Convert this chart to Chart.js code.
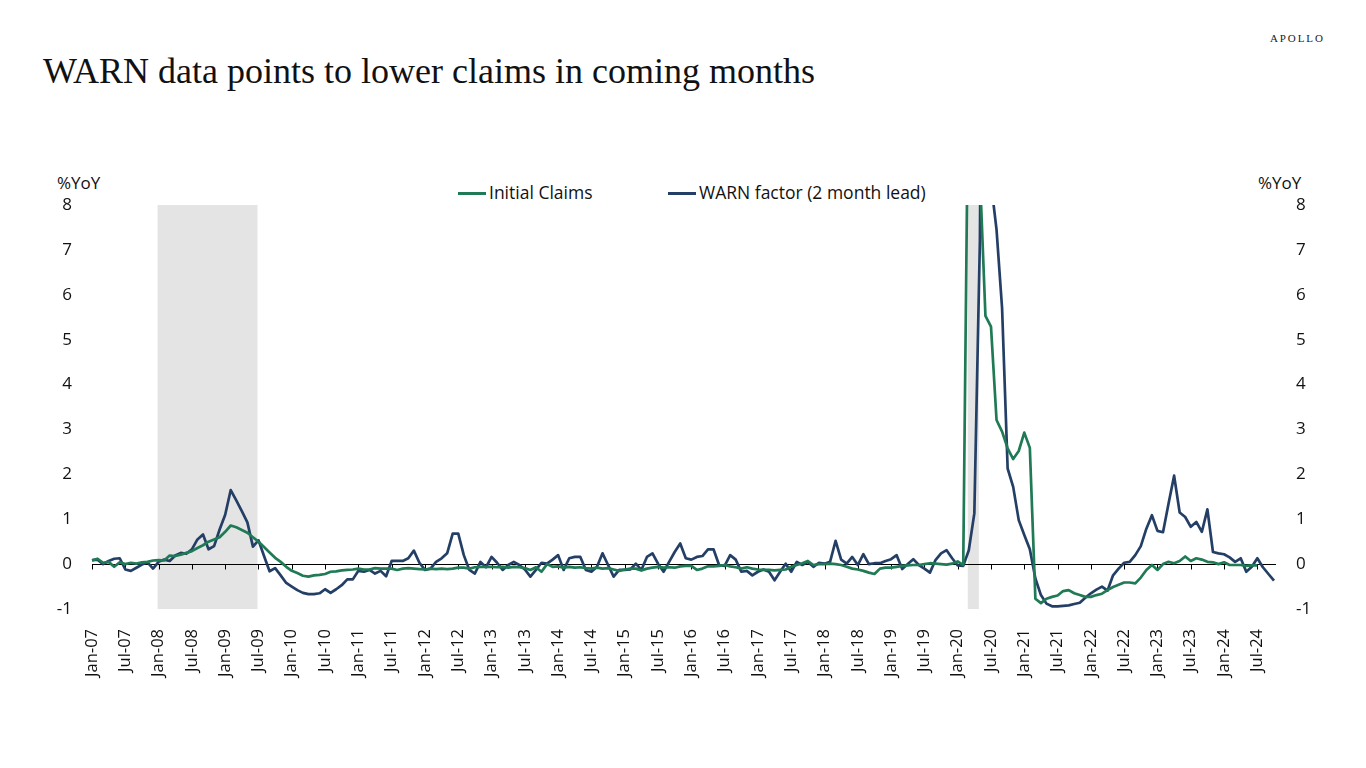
<!DOCTYPE html>
<html>
<head>
<meta charset="utf-8">
<title>WARN data points to lower claims in coming months</title>
<script src="https://cdn.jsdelivr.net/npm/chart.js@4.4.1/dist/chart.umd.min.js"></script>
<style>
  html, body { margin: 0; padding: 0; background: #fff; }
  body { width: 1366px; height: 768px; position: relative; overflow: hidden; font-family: "Open Sans", sans-serif; color: #111; }
  #chart { position: absolute; left: 0; top: 0; }
  .brand { position: absolute; left: 1270px; top: 32px; font-family: "Liberation Serif", serif; font-size: 11px; letter-spacing: 1.9px; color: #222; }
  .title { position: absolute; left: 43px; top: 50px; font-family: "Liberation Serif", serif; font-size: 36px; color: #111; white-space: nowrap; }
  .unit { position: absolute; top: 171px; font-size: 17px; color: #111; }
  .legend { position: absolute; top: 180px; font-size: 17.5px; color: #111; white-space: nowrap; }
  .legend i { display: inline-block; width: 28px; height: 3px; vertical-align: middle; margin-right: 3px; position: relative; top: -1px; }
</style>
</head>
<body>
<div class="brand">APOLLO</div>
<div class="title">WARN data points to lower claims in coming months</div>
<div class="unit" style="left:57px">%YoY</div>
<div class="unit" style="left:1258px">%YoY</div>
<div class="legend" style="left:458px"><i style="background:#1f7a55"></i>Initial Claims</div>
<div class="legend" style="left:668px"><i style="background:#243f66"></i>WARN factor (2 month lead)</div>
<canvas id="chart" width="1366" height="768"></canvas>
<script>
// monthly, Jan-07 .. Oct-24
const months = ['Jan', 'Feb', 'Mar', 'Apr', 'May', 'Jun', 'Jul', 'Aug', 'Sep', 'Oct', 'Nov', 'Dec'];
const labels = [];
for (let y = 7; y <= 24; y++) {
  months.forEach((m, k) => {
    if (y === 24 && k > 9) return;
    labels.push(m + '-' + String(y).padStart(2, '0'));
  });
}

const initialClaims = [
  0.08, 0.12, 0.03, 0.05, -0.06, 0.04, 0.0, 0.03, 0.01, 0.04, 0.05, 0.08,
  0.09, 0.08, 0.19, 0.18, 0.21, 0.25, 0.29, 0.36, 0.42, 0.5, 0.55, 0.6,
  0.72, 0.86, 0.82, 0.76, 0.7, 0.6, 0.5, 0.38, 0.26, 0.14, 0.05, -0.06,
  -0.15, -0.2, -0.26, -0.28, -0.25, -0.24, -0.22, -0.17, -0.16, -0.14, -0.13, -0.12,
  -0.1, -0.12, -0.12, -0.09, -0.1, -0.1, -0.1, -0.13, -0.1, -0.09, -0.1, -0.11,
  -0.12, -0.1, -0.11, -0.1, -0.11, -0.1, -0.08, -0.08, -0.1, -0.07, -0.06, -0.06,
  -0.06, -0.07, -0.06, -0.08, -0.06, -0.07, -0.09, -0.13, -0.07, -0.17, 0.0, -0.06,
  -0.05, -0.08, -0.06, -0.08, -0.07, -0.09, -0.1, -0.08, -0.1, -0.09, -0.12, -0.15,
  -0.12, -0.1, -0.1, -0.14, -0.1, -0.08, -0.06, -0.08, -0.07, -0.08, -0.05, -0.04,
  -0.04, -0.13, -0.1, -0.05, -0.05, -0.04, -0.02, -0.05, -0.07, -0.1, -0.07, -0.1,
  -0.12, -0.13, -0.13, -0.14, -0.13, -0.12, -0.06, -0.02, 0.02, 0.07, -0.02, 0.0,
  0.0, 0.01, 0.0, -0.02, -0.06, -0.1, -0.12, -0.15, -0.19, -0.22, -0.1, -0.08,
  -0.08, -0.06, -0.04, -0.03, -0.02, -0.02, 0.0, 0.02, 0.01, 0.0, -0.01, 0.01,
  0.06, -0.02, 12, 22, 8.7, 5.53, 5.29, 3.21, 2.95, 2.58, 2.34, 2.52,
  2.93, 2.59, -0.77, -0.87, -0.77, -0.73, -0.7, -0.6, -0.58, -0.65, -0.69, -0.73,
  -0.73, -0.69, -0.66, -0.58, -0.51, -0.46, -0.41, -0.41, -0.43, -0.3, -0.13, -0.02,
  -0.13, 0.0, 0.05, 0.02, 0.07, 0.17, 0.07, 0.13, 0.1, 0.05, 0.04, 0.0,
  0.04, -0.02, -0.02, -0.02, -0.04, -0.03, -0.03, null, null, null
];

const warnFactor = [
  0.09, 0.1, 0.0, 0.07, 0.12, 0.13, -0.12, -0.15, -0.08, -0.01, 0.04, -0.1,
  0.05, 0.1, 0.07, 0.19, 0.25, 0.23, 0.33, 0.55, 0.66, 0.33, 0.4, 0.77,
  1.1, 1.65, 1.42, 1.18, 0.93, 0.39, 0.53, 0.18, -0.16, -0.09, -0.25, -0.42,
  -0.5, -0.58, -0.64, -0.67, -0.67, -0.65, -0.56, -0.64, -0.56, -0.47, -0.34, -0.34,
  -0.15, -0.17, -0.13, -0.21, -0.15, -0.27, 0.07, 0.07, 0.07, 0.13, 0.3, 0.03,
  -0.13, -0.1, 0.05, 0.13, 0.24, 0.68, 0.68, 0.2, -0.13, -0.21, 0.05, -0.07,
  0.16, 0.03, -0.13, -0.02, 0.05, -0.02, -0.12, -0.28, -0.13, 0.03, 0.01, 0.1,
  0.2, -0.13, 0.13, 0.16, 0.16, -0.13, -0.17, -0.06, 0.24, -0.02, -0.28, -0.13,
  -0.13, -0.12, 0.01, -0.13, 0.16, 0.24, 0.01, -0.17, 0.05, 0.27, 0.46, 0.13,
  0.1, 0.16, 0.18, 0.33, 0.33, -0.02, -0.04, 0.2, 0.1, -0.17, -0.15, -0.25,
  -0.17, -0.12, -0.17, -0.36, -0.17, 0.01, -0.17, 0.05, -0.02, 0.05, -0.06, 0.03,
  0.01, 0.05, 0.52, 0.1, 0.01, 0.16, -0.02, 0.22, 0.0, 0.02, 0.02, 0.07,
  0.11, 0.2, -0.11, 0.0, 0.11, -0.02, -0.1, -0.19, 0.09, 0.24, 0.31, 0.13,
  -0.03, -0.04, 0.31, 1.13, 7.2, 25, 8.5, 7.45, 5.7, 2.13, 1.72, 0.98,
  0.65, 0.33, -0.32, -0.69, -0.88, -0.94, -0.94, -0.93, -0.92, -0.89, -0.86, -0.75,
  -0.65, -0.57, -0.5, -0.59, -0.25, -0.1, 0.03, 0.05, 0.2, 0.4, 0.79, 1.09,
  0.74, 0.71, 1.35, 1.97, 1.15, 1.05, 0.83, 0.94, 0.72, 1.22, 0.27, 0.24,
  0.22, 0.15, 0.05, 0.13, -0.17, -0.06, 0.13, -0.07, -0.22, -0.37
];

const recessions = [['Jan-08', 'Jul-09'], ['Mar-20', 'May-20']];
const yTicks = [-1, 0, 1, 2, 3, 4, 5, 6, 7, 8];

const GREEN = '#1f7a55';
const BLUE = '#243f66';

// grey recession bands behind the lines
const shading = {
  id: 'shading',
  beforeDatasetsDraw(chart) {
    const { ctx, chartArea, scales } = chart;
    ctx.save();
    ctx.fillStyle = '#e4e4e4';
    recessions.forEach(([a, b]) => {
      const x0 = scales.x.getPixelForValue(labels.indexOf(a)) - 1;
      const x1 = scales.x.getPixelForValue(labels.indexOf(b)) - 1;
      ctx.fillRect(x0, chartArea.top, x1 - x0, chartArea.bottom - chartArea.top);
    });
    ctx.restore();
  }
};

// zero line with tick marks every six months
const zeroAxis = {
  id: 'zeroAxis',
  beforeDatasetsDraw(chart) {
    const { ctx, chartArea, scales } = chart;
    const y0 = Math.round(scales.y.getPixelForValue(0)) + 0.5;
    ctx.save();
    ctx.strokeStyle = '#000';
    ctx.lineWidth = 1;
    ctx.beginPath();
    ctx.moveTo(chartArea.left, y0);
    ctx.lineTo(chartArea.right + 2, y0);
    labels.forEach((l, i) => {
      if (i % 6 !== 0) return;
      const x = Math.round(scales.x.getPixelForValue(i)) + 0.5;
      ctx.moveTo(x, y0);
      ctx.lineTo(x, y0 + 5);
    });
    ctx.stroke();
    ctx.restore();
  }
};

const tickFont = { family: 'Open Sans', size: 17 };

new Chart(document.getElementById('chart'), {
  type: 'line',
  data: {
    labels,
    datasets: [
      {
        label: 'Initial Claims',
        data: initialClaims,
        borderColor: GREEN,
        backgroundColor: GREEN,
        borderWidth: 2.7,
        pointRadius: 0,
        tension: 0,
        borderJoinStyle: 'round',
        yAxisID: 'y'
      },
      {
        label: 'WARN factor (2 month lead)',
        data: warnFactor,
        borderColor: BLUE,
        backgroundColor: BLUE,
        borderWidth: 2.7,
        pointRadius: 0,
        tension: 0,
        borderJoinStyle: 'round',
        yAxisID: 'y'
      }
    ]
  },
  options: {
    responsive: false,
    animation: false,
    layout: { padding: { top: 205, left: 0, right: 0, bottom: 0 } },
    plugins: {
      legend: { display: false },
      tooltip: { enabled: false }
    },
    scales: {
      x: {
        offset: false,
        grid: { display: false },
        border: { display: false },
        afterFit(scale) { scale.height = 159; },
        ticks: {
          autoSkip: false,
          maxRotation: 90,
          minRotation: 90,
          padding: 12,
          color: '#111',
          font: { family: 'Open Sans', size: 16.5 },
          callback: (v, i) => (i % 6 === 0 ? labels[i] : '')
        }
      },
      y: {
        position: 'left',
        min: -1,
        max: 8,
        afterBuildTicks(scale) { scale.ticks = yTicks.map(v => ({ value: v })); },
        afterFit(scale) { scale.width = 92; },
        grid: { display: false, drawTicks: false },
        border: { display: false },
        ticks: { padding: 20, color: '#111', font: tickFont }
      },
      y2: {
        position: 'right',
        min: -1,
        max: 8,
        afterBuildTicks(scale) { scale.ticks = yTicks.map(v => ({ value: v })); },
        afterFit(scale) { scale.width = 92; },
        grid: { display: false, drawTicks: false },
        border: { display: false },
        ticks: { padding: 22, color: '#111', font: tickFont }
      }
    }
  },
  plugins: [shading, zeroAxis]
});
</script>
</body>
</html>
